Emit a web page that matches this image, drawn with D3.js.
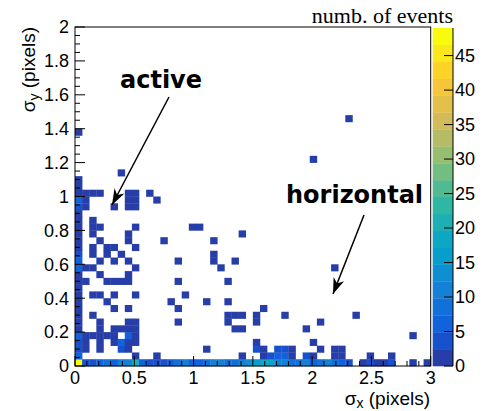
<!DOCTYPE html>
<html>

<head>
    <script src="https://d3js.org/d3.v7.min.js"></script>
    <style>
        body {
            margin: 0;
            background: #fff;
        }

        .tick-label {
            font-family: "Liberation Sans", Arial, sans-serif;
            font-size: 18px;
            fill: #000;
        }

        .axis-title {
            font-family: "Liberation Sans", Arial, sans-serif;
            font-size: 19px;
            fill: #000;
        }

        .note {
            font-family: "DejaVu Sans", sans-serif;
            font-weight: bold;
            font-size: 24px;
            fill: #000;
        }
    </style>
</head>

<body>
    <svg id="chart" width="488" height="411"></svg>

    <script>
        // bin sizes of the 2D histogram (50 x 50 bins)
        var binWidthX = 0.06;
        var binWidthY = 0.04;

        // counts of the first sigma_y bin (0 - 0.04), one per sigma_x bin
        var row0Counts = [49, 3, 4, 6, 8, 7, 10, 12, 22, 5, 3, 4, 3, 5, 8, 10, 7, 6, 8, 10,
            12, 9, 8, 11, 13, 15, 19, 18, 12, 10, 8, 9, 11, 6, 9, 12, 8, 5, 3, 0,
            2, 3, 2, 2, 3, 0, 0, 2, 0, 2];

        // counts of the first sigma_x bin (0 - 0.06), sigma_y bins 1..27
        var col0Counts = [6, 4, 3, 5, 2, 2, 2, 2, 2, 2, 2, 2, 2, 5, 6, 3, 2, 2, 2,
            2, 2, 2, 4, 7, 2, 2, 1];

        // the other filled bins: [sigma_x bin, sigma_y bin, count]
        var otherBins = [
            [8, 1, 2], [11, 1, 1], [23, 1, 1], [26, 1, 2], [27, 1, 3], [28, 1, 5], [29, 1, 6], [30, 1, 2],
            [32, 1, 3], [33, 1, 2], [36, 1, 2], [37, 1, 2], [41, 1, 1], [44, 1, 1],
            [1, 2, 2], [3, 2, 1], [6, 2, 3], [7, 2, 2], [18, 2, 1], [25, 2, 4], [26, 2, 2], [28, 2, 3],
            [29, 2, 4], [30, 2, 2], [34, 2, 1], [36, 2, 2], [37, 2, 1],
            [1, 3, 1], [3, 3, 2], [5, 3, 2], [6, 3, 5], [7, 3, 2], [8, 3, 2], [25, 3, 1], [33, 3, 1],
            [1, 4, 2], [2, 4, 2], [3, 4, 2], [4, 4, 2], [5, 4, 2], [7, 4, 6], [8, 4, 2], [47, 4, 1],
            [3, 5, 1], [5, 5, 1], [6, 5, 2], [7, 5, 2], [8, 5, 2], [22, 5, 1], [23, 5, 1], [32, 5, 1],
            [3, 6, 1], [7, 6, 2], [8, 6, 1], [14, 6, 1], [21, 6, 1], [25, 6, 1], [34, 6, 1],
            [2, 7, 1], [21, 7, 1], [22, 7, 1], [23, 7, 1], [25, 7, 1], [29, 7, 1], [39, 7, 1],
            [5, 8, 1], [7, 8, 1], [14, 8, 1], [26, 8, 1],
            [4, 9, 1], [13, 9, 1], [18, 9, 1], [21, 9, 1],
            [2, 10, 1], [3, 10, 1], [5, 10, 1], [8, 10, 1], [15, 10, 1],
            [1, 12, 1], [4, 12, 1], [5, 12, 1], [6, 12, 1], [7, 12, 1], [14, 12, 1], [21, 12, 1],
            [3, 13, 1], [7, 13, 1],
            [1, 14, 1], [2, 14, 1], [8, 14, 1], [20, 14, 1], [36, 14, 1],
            [3, 15, 1], [5, 15, 1], [7, 15, 1], [14, 15, 1], [19, 15, 1], [22, 15, 1],
            [2, 16, 1], [4, 16, 1], [6, 16, 1], [19, 16, 1],
            [2, 17, 1], [4, 17, 1], [5, 17, 1], [8, 17, 1],
            [3, 18, 1], [7, 18, 1], [12, 18, 1], [19, 18, 1],
            [2, 19, 1], [7, 19, 1], [23, 19, 1],
            [2, 20, 1], [3, 20, 1], [8, 20, 1], [16, 20, 1], [17, 20, 1],
            [2, 21, 1],
            [1, 23, 1], [5, 23, 1], [7, 23, 2], [8, 23, 2],
            [1, 24, 1], [7, 24, 2], [8, 24, 2], [11, 24, 1],
            [1, 25, 1], [2, 25, 1], [3, 25, 1], [7, 25, 1], [8, 25, 1], [10, 25, 1],
            [6, 28, 1], [33, 30, 1], [0, 34, 1], [38, 36, 1]
        ];

        var xTicks = [0, 0.5, 1, 1.5, 2, 2.5, 3];
        var yTicks = [0, 0.2, 0.4, 0.6, 0.8, 1, 1.2, 1.4, 1.6, 1.8, 2];
        var zTicks = [0, 5, 10, 15, 20, 25, 30, 35, 40, 45];
        var zMax = 49;
        var nContours = 20;

        // collect all bins in one list
        var bins = [];
        row0Counts.forEach(function (n, i) {
            if (n > 0) bins.push({ ix: i, iy: 0, n: n });
        });
        col0Counts.forEach(function (n, j) {
            if (n > 0) bins.push({ ix: 0, iy: j + 1, n: n });
        });
        otherBins.forEach(function (b) {
            bins.push({ ix: b[0], iy: b[1], n: b[2] });
        });

        // ROOT "bird" palette
        var birdStops = [0, 0.125, 0.25, 0.375, 0.5, 0.625, 0.75, 0.875, 1];
        var birdR = [0.2082, 0.0592, 0.0780, 0.0232, 0.1802, 0.5301, 0.8186, 0.9956, 0.9764];
        var birdG = [0.1664, 0.3599, 0.5041, 0.6419, 0.7178, 0.7492, 0.7328, 0.7862, 0.9832];
        var birdB = [0.5293, 0.8684, 0.8385, 0.7914, 0.6425, 0.4662, 0.3499, 0.1968, 0.0539];

        var toByte = function (arr) { return arr.map(function (v) { return Math.round(v * 255); }); };
        var rScale = d3.scaleLinear().domain(birdStops).range(toByte(birdR));
        var gScale = d3.scaleLinear().domain(birdStops).range(toByte(birdG));
        var bScale = d3.scaleLinear().domain(birdStops).range(toByte(birdB));

        // same band -> palette index rule as ROOT's COLZ
        function bandColor(k) {
            var idx = Math.floor((k + 0.99) * 255 / nContours);
            var f = Math.min(1, idx / 254);
            return d3.rgb(rScale(f), gScale(f), bScale(f)).toString();
        }

        function countColor(n) {
            var k = Math.min(nContours - 1, Math.floor(n / zMax * nContours));
            return bandColor(k);
        }

        var svg = d3.select("#chart");

        var x = d3.scaleLinear().domain([0, 3]).range([75, 430.7]);
        var y = d3.scaleLinear().domain([0, 2]).range([366, 27]);
        var z = d3.scaleLinear().domain([0, zMax]).range([366, 28]);

        // cells
        svg.append("g").selectAll("rect")
            .data(bins)
            .enter().append("rect")
            .attr("x", function (d) { return x(d.ix * binWidthX); })
            .attr("y", function (d) { return y((d.iy + 1) * binWidthY); })
            .attr("width", function (d) { return x((d.ix + 1) * binWidthX) - x(d.ix * binWidthX) + 0.3; })
            .attr("height", function (d) { return y(d.iy * binWidthY) - y((d.iy + 1) * binWidthY) + 0.3; })
            .attr("fill", function (d) { return countColor(d.n); });

        // frame
        svg.append("rect")
            .attr("x", x(0))
            .attr("y", y(2))
            .attr("width", x(3) - x(0))
            .attr("height", y(0) - y(2))
            .attr("fill", "none")
            .attr("stroke", "#000")
            .attr("stroke-width", 1);

        // x axis ticks (inside, pointing up)
        var xMinor = d3.range(0, 31).map(function (i) { return i / 10; });
        svg.append("g").selectAll("line")
            .data(xMinor)
            .enter().append("line")
            .attr("x1", function (d) { return x(d); })
            .attr("x2", function (d) { return x(d); })
            .attr("y1", y(0))
            .attr("y2", function (d, i) { return y(0) - (i % 5 === 0 ? 10 : 5); })
            .attr("stroke", "#000")
            .attr("stroke-width", 1);

        svg.append("g").selectAll("text")
            .data(xTicks)
            .enter().append("text")
            .attr("class", "tick-label")
            .attr("x", function (d) { return x(d); })
            .attr("y", 383.5)
            .attr("text-anchor", "middle")
            .text(function (d) { return d; });

        // y axis ticks (inside, pointing right)
        var yMinor = d3.range(0, 41).map(function (i) { return i / 20; });
        svg.append("g").selectAll("line")
            .data(yMinor)
            .enter().append("line")
            .attr("x1", x(0))
            .attr("x2", function (d, i) { return x(0) + (i % 4 === 0 ? 10 : 5); })
            .attr("y1", function (d) { return y(d); })
            .attr("y2", function (d) { return y(d); })
            .attr("stroke", "#000")
            .attr("stroke-width", 1);

        svg.append("g").selectAll("text")
            .data(yTicks)
            .enter().append("text")
            .attr("class", "tick-label")
            .attr("x", 69)
            .attr("y", function (d) { return y(d); })
            .attr("dy", "0.35em")
            .attr("text-anchor", "end")
            .text(function (d) { return d; });

        // axis titles
        var xTitle = svg.append("text")
            .attr("class", "axis-title")
            .attr("x", 430)
            .attr("y", 405)
            .attr("text-anchor", "end");
        xTitle.append("tspan").text("\u03c3");
        xTitle.append("tspan").attr("font-size", "14px").attr("dy", 3).text("x");
        xTitle.append("tspan").attr("dy", -3).text(" (pixels)");

        var yTitle = svg.append("text")
            .attr("class", "axis-title")
            .attr("transform", "translate(35," + y(2) + ") rotate(-90)")
            .attr("text-anchor", "end");
        yTitle.append("tspan").text("\u03c3");
        yTitle.append("tspan").attr("font-size", "14px").attr("dy", 4).text("y");
        yTitle.append("tspan").attr("dy", -4).text(" (pixels)");

        // colour bar
        var bandData = d3.range(nContours);
        var bandStep = zMax / nContours;
        svg.append("g").selectAll("rect")
            .data(bandData)
            .enter().append("rect")
            .attr("x", 432.7)
            .attr("y", function (k) { return z((k + 1) * bandStep); })
            .attr("width", 20.3)
            .attr("height", function (k) { return z(k * bandStep) - z((k + 1) * bandStep) + 0.3; })
            .attr("fill", function (k) { return bandColor(k); });

        svg.append("line")
            .attr("x1", 453).attr("x2", 453)
            .attr("y1", z(0)).attr("y2", z(zMax))
            .attr("stroke", "#000")
            .attr("stroke-width", 1);

        svg.append("g").selectAll("line")
            .data(zTicks)
            .enter().append("line")
            .attr("x1", 444)
            .attr("x2", 453)
            .attr("y1", function (d) { return z(d); })
            .attr("y2", function (d) { return z(d); })
            .attr("stroke", "#000")
            .attr("stroke-width", 1);

        svg.append("g").selectAll("text")
            .data(zTicks)
            .enter().append("text")
            .attr("class", "tick-label")
            .attr("x", 455)
            .attr("y", function (d) { return z(d); })
            .attr("dy", "0.35em")
            .text(function (d) { return d; });

        svg.append("text")
            .attr("x", 453)
            .attr("y", 23)
            .attr("text-anchor", "end")
            .attr("font-family", "'Liberation Serif', 'Times New Roman', serif")
            .attr("font-size", "22px")
            .text("numb. of events");

        // annotations with arrows
        svg.append("defs").append("marker")
            .attr("id", "head")
            .attr("viewBox", "0 0 10 10")
            .attr("refX", 10)
            .attr("refY", 5)
            .attr("markerWidth", 16)
            .attr("markerHeight", 16)
            .attr("markerUnits", "userSpaceOnUse")
            .attr("orient", "auto")
            .append("path")
            .attr("d", "M0,1.5 L10,5 L0,8.5 L3,5 Z")
            .attr("fill", "#000");

        svg.append("text").attr("class", "note").attr("x", 120).attr("y", 88).text("active");
        svg.append("text").attr("class", "note").attr("x", 286).attr("y", 203).text("horizontal");

        svg.append("line")
            .attr("x1", 169).attr("y1", 97)
            .attr("x2", 112).attr("y2", 205)
            .attr("stroke", "#000")
            .attr("stroke-width", 1.5)
            .attr("marker-end", "url(#head)");

        svg.append("line")
            .attr("x1", 364).attr("y1", 215)
            .attr("x2", 333).attr("y2", 294)
            .attr("stroke", "#000")
            .attr("stroke-width", 1.5)
            .attr("marker-end", "url(#head)");
    </script>
</body>

</html>
